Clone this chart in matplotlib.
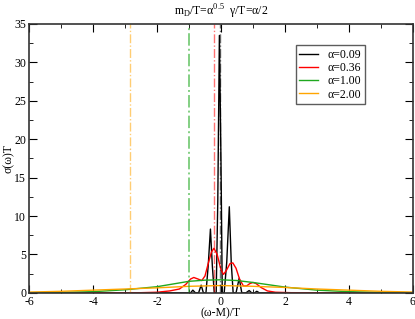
import matplotlib
matplotlib.use("Agg")
import matplotlib.pyplot as plt
from matplotlib.ticker import MultipleLocator

plt.rcParams['font.family'] = ['Liberation Serif', 'DejaVu Serif']
plt.rcParams['mathtext.fontset'] = 'custom'
plt.rcParams['mathtext.rm'] = 'Liberation Serif'
plt.rcParams['axes.unicode_minus'] = False

# --- data ---
alphas = [0.09, 0.36, 1.00, 2.00]
colors = ['black', 'red', '#1fa81f', 'orange']

x_009 = [-6, -1.3, -0.95, -0.88, -0.8, -0.7, -0.62, -0.55, -0.47, -0.4, -0.33, -0.27, -0.21,
         -0.15, -0.1, -0.05, 0.0, 0.04, 0.1, 0.18, 0.26, 0.32, 0.38, 0.47, 0.57, 0.65,
         0.78, 0.88, 0.96, 1.05, 1.12, 1.2, 6]
y_009 = [0, 0, 0, 0.35, 0, 0, 1.0, 0, 0, 3.5, 8.3, 3.5, 0,
         0, 12, 33.5, 17, 0, 0, 4, 11.2, 4, 0, 0, 1.9, 0,
         0, 0.3, 0, 0, 0.2, 0, 0]

x_036 = [-6, -2.5, -2.0, -1.6, -1.3, -1.1, -0.95, -0.85, -0.72, -0.6, -0.5, -0.4, -0.3, -0.22,
         -0.12, 0.0, 0.08, 0.18, 0.28, 0.37, 0.47, 0.58, 0.7, 0.8, 0.9, 1.0, 1.1, 1.25,
         1.45, 1.7, 2.2, 6]
y_036 = [0, 0.02, 0.08, 0.25, 0.5, 1.1, 1.8, 2.0, 1.8, 1.6, 2.2, 3.8, 5.3, 5.8,
         5.0, 3.0, 2.4, 3.0, 3.8, 3.9, 3.2, 1.8, 0.9, 0.9, 1.2, 1.35, 1.2, 0.7,
         0.25, 0.08, 0.02, 0]

x_100 = [-6, -5, -4, -3, -2, -1.5, -1, -0.5, 0, 0.5, 1, 1.5, 2, 3, 4, 5, 6]
y_100 = [0.02, 0.06, 0.15, 0.4, 0.8, 1.15, 1.5, 1.65, 1.7, 1.6, 1.35, 1.05, 0.75, 0.35, 0.15, 0.06, 0.02]

x_200 = [-6, -5, -4, -3, -2, -1, 0, 1, 2, 3, 4, 5, 6]
y_200 = [0.1, 0.2, 0.35, 0.5, 0.65, 0.85, 0.95, 0.85, 0.7, 0.5, 0.35, 0.2, 0.1]

curves = [(x_009, y_009), (x_036, y_036), (x_100, y_100), (x_200, y_200)]

# vertical markers at -alpha^1.5
vline_pos = [-0.027, -0.216, -1.0, -2.83]

fig = plt.figure(figsize=(4.15, 3.19), dpi=100)
ax = fig.add_axes([0.07, 0.082, 0.925, 0.843])

for a, c, (xs, ys) in zip(alphas, colors, curves):
    ax.plot(xs, ys, color=c, lw=1.0, label='α=%.2f' % a)

for c, xv in zip(colors, vline_pos):
    lw = 1.4 if c == '#1fa81f' else 1.0
    ax.axvline(xv, color=c, lw=lw, ls='-.', alpha=0.55)

ax.set_xlim(-6, 6)
ax.set_ylim(0, 35)
ax.xaxis.set_major_locator(MultipleLocator(2))
ax.xaxis.set_minor_locator(MultipleLocator(1))
ax.yaxis.set_major_locator(MultipleLocator(5))
ax.yaxis.set_minor_locator(MultipleLocator(2.5))
ax.tick_params(which='both', direction='in', top=True, right=True, labelsize=8.5, pad=2)
ax.tick_params(which='major', length=6)
ax.tick_params(which='minor', length=3)
for s in ax.spines.values():
    s.set_linewidth(1.2)
    s.set_color('#333333')

ax.set_xlabel('(ω-M)/T', fontsize=8.5, labelpad=0)
ax.set_ylabel('σ(ω)T', fontsize=8.5, labelpad=0)
ax.set_title(r'm$_\mathregular{D}$/T=α$^\mathregular{0.5}$  γ/T=α/2', fontsize=8.5, pad=6)

leg = ax.legend(loc='upper left', bbox_to_anchor=(0.695, 0.92), fontsize=8.5, frameon=True,
                fancybox=False, handlelength=1.6, borderpad=0.3, labelspacing=0.1,
                handletextpad=0.8, borderaxespad=0)
leg.get_frame().set_edgecolor('#333333')
leg.get_frame().set_linewidth(1.0)

fig.savefig('out.png', dpi=100)
